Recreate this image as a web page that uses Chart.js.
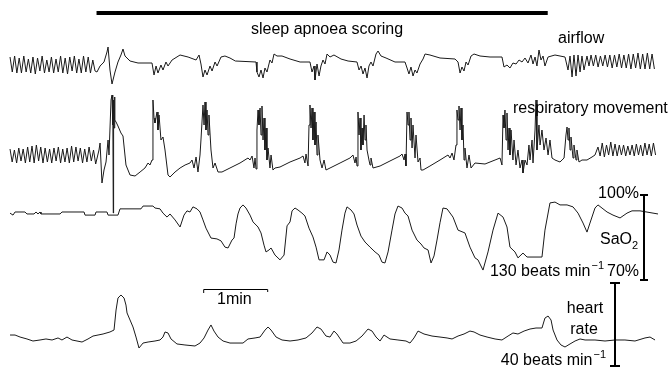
<!DOCTYPE html>
<html>
<head>
<meta charset="utf-8">
<script src="https://cdn.jsdelivr.net/npm/chart.js@4.4.1/dist/chart.umd.min.js"></script>
<style>
  body { margin: 0; background: #fff; }
  #wrap { width: 668px; height: 374px; }
</style>
</head>
<body>
<div id="wrap"><canvas id="trace"></canvas></div>
<script>
// time in seconds, signals: airflow / respiratory movement in arbitrary units,
// SaO2 in %, heart rate in beats/min
var airTime = [1.9,4.0,6.2,8.3,10.5,12.6,14.8,17.0,19.1,21.3,23.4,25.6,27.7,29.9,32.0,34.2,36.4,38.5,40.7,42.8,45.0,47.1,49.3,51.4,53.6,55.8,57.9,60.1,62.2,64.4,66.5,68.7,70.8,73.0,75.2,77.3,79.5,81.6,
  83.4,86.3,90,92.8,93.8,95.6,97.5,100.3,103.1,105.9,107.8,109.7,114.4,121.9,135,
  136.9,138.8,140.6,143.4,145.3,148.1,150,153.8,161.3,168.8,176.3,179.1,180.9,182.8,184.7,186.6,189.4,191.3,194.1,196,199.7,203.4,208.1,213.1,232.5,
  233.4,235.3,237.2,239.1,240.9,242.8,245.6,247.5,249.4,252.2,256.9,264.4,273.8,283.1,
  285,286.9,287.8,289.7,291.6,293.4,295.3,297.2,299.1,301.9,305.6,312.2,318.8,327.2,
  329.1,331,332.8,334.7,336.6,338.4,340.3,342.2,345,346.9,349.7,354.4,362.8,372.2,
  374.1,375.9,377.8,379.7,381.6,383.4,386.3,389.1,391,395.6,405,419.1,
  421.9,423.8,425.6,427.5,429.4,431.3,434.1,436.9,442.5,451.9,463.1,
  465,467.8,470.6,473.4,476.3,479.1,481.9,484.7,487.5,490.3,492.2,494.1,495.9,497.8,499.7,501.6,503.4,506.3,512.8,522.2,
  525,526.9,528.8,530.6,532.5,534.4,536.3,538.1,540,542.8,544.7,546.6,
  548.8,551,553.2,555.4,557.6,559.8,562,564.2,566.4,568.6,570.8,573,575.2,577.4,579.6,581.8,584,586.2,588.4,590.6,592.8,595,597.2,599.4,601.6,603.8,606];
var airValue = [0.8,-0.7,0.9,-0.8,0.7,-0.8,0.9,-0.7,0.6,-0.8,0.8,-0.9,0.7,-0.6,0.9,-0.8,0.5,-0.7,0.8,-0.8,0.6,-0.7,0.9,-0.8,0.7,-0.9,0.8,-0.6,0.9,-0.8,0.6,-0.8,0.9,-0.7,0.8,-0.8,0.5,-0.6,
  -0.7,-0.1,0.3,1.3,1.8,-0.5,-1.9,-0.7,0.3,1.0,1.6,0.9,0.4,0.2,0.2,
  -1.0,-0.1,-0.8,0,-0.5,0.3,-0.1,0.5,1.0,0.8,0.5,1.0,0.1,-1.2,-0.5,-1.0,-0.1,-0.6,0.3,-0.1,0.8,0.9,0.7,0.4,0.3,
  -0.7,-1.2,-0.5,-1.3,-0.3,-0.7,0.5,0.2,1.1,0.9,0.9,0.6,0.3,0.3,
  -0.7,-0.1,-1.5,0.1,-1.1,-0.1,0.5,0.1,1.1,0.8,1.0,0.6,0.4,0.3,
  -0.5,-0.1,-0.9,-0.3,-1.3,-0.1,0.3,-0.1,1.1,1.4,0.9,0.7,0.3,0.3,
  -0.3,-0.9,-0.2,-1.1,-0.5,-0.8,0.1,0.6,1.1,1.0,0.7,0.6,
  0.3,-0.8,-0.2,-0.6,0.3,0,0.9,1.1,0.9,0.8,0.8,
  -0.2,0,-0.3,0.2,0.1,0.5,0.3,0.7,0.2,1.0,0.1,0.8,-0.1,1.5,0.5,0.9,-0.1,0.8,1.0,0.8,
  -0.5,0.9,-1.2,1.0,-1.1,1.0,-0.7,0.9,-0.5,0.9,-0.1,1.0,
  -0.1,1.0,-0.2,0.9,-0.1,1.0,-0.2,1.0,-0.3,1.0,-0.2,1.1,-0.3,1.0,-0.3,1.1,-0.4,1.1,-0.3,1.2,-0.4,1.1,-0.4,1.2,-0.4,1.1,-0.4];

var respTime = [1.9,3.9,6.0,8.1,10.1,12.2,14.2,16.3,18.4,20.4,22.5,24.5,26.6,28.7,30.7,32.8,34.8,36.9,39.0,41.0,43.1,45.1,47.2,49.3,51.3,53.4,55.4,57.5,59.6,61.6,63.7,65.7,67.8,69.9,71.9,74.0,76.0,78.1,80.2,82.2,
  85.3,86.3,88.1,90,91.9,93.8,94.7,96.6,97.5,98,98.4,98.7,99,99.4,99.8,100.3,101.3,103.1,105.9,107.8,110.6,114.4,119.1,123.8,128.4,131.3,133.1,135,
  135.9,136.9,137.8,139.7,140.6,141.6,143.4,145.3,147.2,150,151.9,156.6,161.3,166,170.6,172.5,174.4,176.3,178.1,180,
  180.9,182.8,183.8,184.7,185.6,186.6,187.5,188.4,190.3,192.2,194.1,196.9,200.6,208.1,217.5,225,226.9,228.8,230.6,231.6,232.5,
  233.4,234.4,235.3,236.3,237.2,238.1,239.1,240,240.9,241.9,242.8,243.8,245.6,246.6,248.4,250.3,255,264.4,273.8,276.6,278.4,279.4,281.3,
  282.2,283.1,284.1,285,285.9,286.9,287.8,288.8,289.7,290.6,292.5,294.4,296.3,298.1,301.9,311.3,320.6,323.4,325.3,326.3,327.2,
  328.1,329.1,330,330.9,331.9,332.8,333.8,334.7,335.6,336.6,338.4,339.4,340.3,342.2,348.8,358.1,367.5,369.4,371.3,372.2,373.1,
  374.1,375,375.9,376.9,377.8,378.8,379.7,381.6,382.5,384.4,386.3,387.2,389.1,395.6,405,412.5,414.4,416.3,418.1,420,
  420.9,421.9,422.8,423.8,424.7,425.6,426.6,427.5,428.4,430.3,432.2,434.1,437.8,447.2,456.6,461.3,463.1,
  464.1,465,465.9,466.9,467.8,468.8,469.7,470.6,471.6,473.4,474.4,476.3,478.1,480,481.9,482.8,484.7,486.6,488.4,489.4,491.3,492.2,494.1,495,495.9,497.8,498.8,500.6,502.5,504.4,506.3,508.1,510,512.8,517.5,521.3,
  523.1,524.1,525,525.9,526.9,527.8,529.7,530.6,532.5,533.4,535.3,538.1,542.8,547.5,550.3,
  553.1,555.1,557.1,559.1,561.1,563.1,565.1,567.1,569.1,571.1,573.1,575.1,577.1,579.1,581.1,583.1,585.1,587.1,589.1,591.1,593.1,595.1,597.1,599.1,601.1,603.1,605.1,607.1];
var respValue = [0.6,-0.7,0.5,-0.8,0.7,-0.6,0.6,-0.8,0.8,-0.7,0.9,-0.8,1.0,-0.6,0.8,-0.8,0.7,-0.7,0.6,-0.8,0.7,-0.6,0.8,-0.8,0.6,-0.7,0.7,-0.8,0.9,-0.7,0.8,-0.6,0.7,-0.8,0.6,-0.7,0.8,-0.6,0.5,-0.9,
  0.5,1.2,-2.8,-1.5,-0.7,1.5,0,5.5,6.0,3.0,6.0,-5.8,5.5,2.7,5.8,3.5,3.3,2.9,2.2,1.9,-1.0,-2.0,-2.1,-1.7,-1.3,-0.8,-1.0,-0.5,
  5.5,3.7,3.2,4.3,2.5,4.0,1.5,1.8,0.5,-2.0,-2.2,-1.7,-1.3,-1.0,-0.8,-0.5,-1.3,-0.2,-1.7,0,
  1.5,5.0,3.0,5.3,2.5,4.5,2.0,4.0,0.5,-1.3,-0.8,-1.7,-1.7,-1.3,-0.8,-0.3,-0.5,-0.1,-1.3,-0.3,-1.4,
  2.5,4.5,3.0,4.7,2.0,4.9,1.5,3.7,0.5,2.7,-0.5,0.7,-1.3,0,-1.5,-1.3,-1.2,-0.7,-0.3,-0.1,-0.8,0.1,-1.1,
  3.0,5.0,2.7,4.7,1.5,4.3,1.0,3.3,0,2.0,-0.5,-1.3,-0.5,-1.5,-1.3,-0.8,-0.3,0,-0.8,-0.2,-1.1,
  4.3,2.0,3.7,0.5,2.7,1.0,4.0,1.5,3.0,0.5,-0.5,-1.0,-0.3,-1.3,-1.1,-0.6,-0.1,0.1,-0.5,0.1,-1.1,
  4.3,3.0,4.3,1.5,3.7,0.7,3.0,-0.3,2.0,-0.7,-0.3,-1.5,-1.5,-1.1,-0.5,0,-0.3,0.2,-0.5,1.0,
  4.5,3.5,4.9,2.5,4.7,1.5,3.0,-0.5,0.7,-1.3,0,-1.3,-0.8,-0.9,-0.5,-0.3,-1.0,
  4.0,2.7,4.5,1.5,4.2,0.5,2.7,0,2.5,-0.5,1.5,-1.0,0.5,-1.3,-0.5,-1.8,-0.5,-1.0,1.0,-0.5,1.5,-0.8,2.5,5.5,0.5,3.0,1.0,2.5,0.5,1.7,0,1.5,-0.3,-0.5,-0.7,-0.3,
  2.0,2.8,1.5,2.7,0.5,1.8,-0.3,1.0,-0.5,0.5,-0.7,-0.5,-0.5,-0.2,0,
  0.8,-0.1,1.2,-0.2,1.0,0,1.3,-0.1,1.1,-0.1,1.0,0,1.0,-0.1,0.9,0,1.0,-0.1,1.1,0,1.0,-0.1,1.2,0,1.1,-0.1,1.2,0];

var satTime = [1.9,4.7,6.6,15.9,17.8,24.4,26.3,28.1,30,30.9,48.8,50.6,71.3,72.2,81.6,82.5,92.8,93.8,103.1,105,124.7,126.6,135.9,137.8,142.5,145.3,149.1,151.9,156.6,161.3,165,167.8,170.6,173.4,177.2,180,182.8,185.6,190.3,195.9,199.7,203.4,206.3,
  210,211.9,213.8,215.6,217.5,220.3,223.1,226.9,229.7,234.4,237.2,240,241.9,244.7,246.6,250.3,255,258.8,261.6,264.4,266.3,269.1,271.9,275.6,278.4,282.2,285.9,288.8,291.6,296.3,299.1,301.9,304.7,307.5,310.3,313.1,315.9,317.8,321.6,324.4,327.2,330.9,334.7,339.4,344.1,347.8,350.6,353.4,356.3,360,362.8,365.6,369.4,372.2,375,378.8,383.4,387.2,390,393.8,396.6,399.4,402.2,405,407.8,
  411.6,417.2,421.9,428.4,433.1,437.8,440.6,445.3,450,454.7,459.4,464.1,467.8,470.6,475.3,478.1,482.8,486.6,500.6,503.4,508.1,512.8,517.5,524.1,529.7,534.4,539.1,542.8,545.6,550.3,553.1,561.6,567.2,573.8,580.3,585,592.5,604.7,609.4];
var satValue = [93.6,92.9,94.0,94.0,93.3,93.3,94.0,93.3,94.0,93.3,93.3,94.0,94.0,92.9,92.9,94.0,94.0,92.9,92.9,95.1,95.1,96.1,96.1,95.4,95.1,93.6,92.2,93.3,91.2,88.7,92.9,94.4,94.0,95.8,95.1,94.0,91.2,88.3,84.8,84.5,83.8,81.6,81.3,
  84.1,84.8,89.8,93.3,95.4,96.5,95.4,92.9,90.5,88.7,86.6,82.3,79.9,80.6,81.3,78.8,77.1,78.8,89.1,90.5,94.4,95.4,94.7,93.6,92.6,88.3,85.2,81.6,77.1,77.1,79.9,78.8,76.3,76.0,80.6,87.6,93.6,95.8,94.7,93.3,89.4,85.5,83.4,81.6,79.9,78.8,76.3,76.0,79.9,87.6,93.3,96.1,95.4,93.6,92.6,87.6,84.1,82.7,81.3,80.6,76.0,78.5,84.1,90.2,95.4,
  95.1,92.2,87.6,86.6,81.6,77.8,77.1,73.5,79.9,87.6,93.6,92.2,88.7,81.6,79.9,77.8,79.5,78.1,78.1,87.6,97.2,97.5,96.5,96.5,95.8,93.6,90.1,86.9,90.1,95.4,96.5,94.0,92.9,91.9,93.6,94.4,94.4,93.6,93.3];

var hrTime = [1.9,6.6,11.3,17.8,23.4,30,35.6,41.3,46.9,50.6,55.3,60,64.7,69.4,75,79.7,84.4,89.1,95.6,99.4,101.3,103.1,105.9,108.8,110.6,111.6,114.4,117.2,120,122.8,126.6,131.3,137.8,142.5,145.3,147.2,150,152.8,158.4,165.9,175.3,180,183.8,187.5,190.3,193.1,196.9,201.6,208.1,220.3,225,231.6,236.3,241,243.8,246.6,251.3,256.9,264.4,271.9,279.4,285,289.7,293.4,298.1,301.9,305.6,308.4,314.1,320.6,326.3,331.9,337.5,341.3,345,348.8,352.5,358.1,365.6,373.1,376.9,380.6,384.4,390,397.5,405,411.6,416.3,421.9,427.5,433.1,436.9,442.5,449.1,456.6,463.1,468.8,473.4,478.1,483.8,489.4,495,500.6,503.4,506.3,509.1,511,514.7,518.4,522.2,526.9,531.6,536.3,541,550.3,559.7,569.1,578.4,587.8,597.2,601.9,606.6];
var hrValue = [73.6,73.6,71.4,69.3,67.1,68.2,69.3,68.2,70.4,68.2,71.4,68.2,67.1,66.0,69.3,72.5,73.6,74.7,76.9,79.0,100.7,113.7,117.0,113.7,106.1,97.5,89.9,82.3,71.4,59.5,64.9,66.0,67.1,68.2,71.4,76.9,75.8,69.3,63.9,62.8,61.7,64.9,70.4,79.0,84.5,77.9,71.4,67.1,64.9,64.9,69.3,70.4,71.4,79.0,82.3,79.0,71.4,68.2,67.1,68.2,70.4,75.8,82.3,80.1,72.5,71.4,77.9,74.7,64.9,64.9,67.1,72.5,80.1,77.9,71.4,67.1,73.6,69.3,68.2,67.1,64.9,70.4,77.9,74.7,72.5,71.4,70.4,69.3,72.5,74.7,77.9,76.9,73.6,71.4,69.3,68.2,72.5,75.8,74.7,77.9,80.1,81.2,81.2,92.0,94.2,89.9,79.0,68.2,62.8,60.6,63.9,67.1,69.3,68.2,68.2,67.1,68.2,68.2,67.1,70.4,71.4,68.2];

// scale bars and event markers
var satScale = [100, 70];
var hrScale = [130, 40];
var minuteBar = [183, 243];
var scoringPeriod = [83, 506];

function pairs(t, v) {
  return t.map(function (x, i) { return { x: x, y: v[i] }; });
}

function traceSet(label, t, v, axis) {
  return {
    label: label,
    data: pairs(t, v),
    yAxisID: axis,
    borderColor: '#1a1a1a',
    borderWidth: 1,
    pointRadius: 0,
    tension: 0,
    fill: false
  };
}

var annotate = {
  id: 'annotate',
  afterDatasetsDraw: function (chart) {
    var c = chart.ctx;
    var xs = chart.scales.x;
    var ys = chart.scales.ySat;
    var yh = chart.scales.yHR;
    c.save();
    c.strokeStyle = '#000';
    c.fillStyle = '#000';

    // scoring bar
    c.lineWidth = 4;
    c.beginPath();
    c.moveTo(xs.getPixelForValue(scoringPeriod[0]), 13);
    c.lineTo(xs.getPixelForValue(scoringPeriod[1]), 13);
    c.stroke();

    // SaO2 scale bar
    var sx = 644;
    var s1 = ys.getPixelForValue(satScale[0]);
    var s2 = ys.getPixelForValue(satScale[1]);
    c.lineWidth = 2;
    c.beginPath();
    c.moveTo(sx, s1); c.lineTo(sx, s2);
    c.moveTo(sx - 4, s1); c.lineTo(sx + 4, s1);
    c.moveTo(sx - 4, s2); c.lineTo(sx + 4, s2);
    c.stroke();

    // heart rate scale bar
    var hx = 615;
    var h1 = yh.getPixelForValue(hrScale[0]);
    var h2 = yh.getPixelForValue(hrScale[1]);
    c.beginPath();
    c.moveTo(hx, h1); c.lineTo(hx, h2);
    c.moveTo(hx - 5, h1); c.lineTo(hx + 5, h1);
    c.moveTo(hx - 5, h2); c.lineTo(hx + 5, h2);
    c.stroke();

    // 1 min bar
    var m1 = xs.getPixelForValue(minuteBar[0]);
    var m2 = xs.getPixelForValue(minuteBar[1]);
    c.lineWidth = 1;
    c.beginPath();
    c.moveTo(m1 + 0.5, 293); c.lineTo(m1 + 0.5, 289.5);
    c.lineTo(m2 + 0.5, 289.5); c.lineTo(m2 + 0.5, 292);
    c.stroke();

    // labels
    c.font = '16px "Liberation Sans", Arial, sans-serif';
    c.textBaseline = 'middle';
    c.textAlign = 'center';
    c.fillText('sleep apnoea scoring', 327, 30);
    c.fillText('heart', 585, 309);
    c.fillText('rate', 584, 330);
    c.textAlign = 'left';
    c.fillText('1min', 217, 300);
    c.fillText('airflow', 558, 39);
    c.fillText('respiratory movement', 513, 109);
    c.textAlign = 'right';
    c.fillText('100%', 639, s1 - 1);
    c.fillText('70%', 639, s2 - 8);

    // SaO2 with subscript
    c.textAlign = 'left';
    c.fillText('SaO', 600, 240);
    c.font = '11px "Liberation Sans", Arial, sans-serif';
    c.fillText('2', 632, 246);

    function beats(txt, right, y) {
      c.font = '11px "Liberation Sans", Arial, sans-serif';
      var sup = '\u22121';
      var w = c.measureText(sup).width;
      c.textAlign = 'left';
      c.fillText(sup, right - w, y - 6);
      c.font = '16px "Liberation Sans", Arial, sans-serif';
      c.textAlign = 'right';
      c.fillText(txt, right - w - 1, y);
    }
    beats(hrScale[0] + ' beats min', 604, 272);
    beats(hrScale[1] + ' beats min', 606, 361);
    c.restore();
  }
};

new Chart(document.getElementById('trace'), {
  type: 'line',
  data: {
    datasets: [
      traceSet('airflow', airTime, airValue, 'yAir'),
      traceSet('respiratory movement', respTime, respValue, 'yResp'),
      traceSet('SaO2', satTime, satValue, 'ySat'),
      traceSet('heart rate', hrTime, hrValue, 'yHR')
    ]
  },
  options: {
    responsive: true,
    maintainAspectRatio: false,
    animation: false,
    layout: { padding: 0 },
    plugins: { legend: { display: false }, tooltip: { enabled: false } },
    scales: {
      x: { type: 'linear', min: -7.5, max: 618.75, display: false },
      yAir: { min: -30.9, max: 6.5, display: false },
      yResp: { min: -21.9, max: 15.5, display: false },
      ySat: { min: 36.82, max: 168.82, display: false },
      yHR: { min: 31.33, max: 436.87, display: false }
    }
  },
  plugins: [annotate]
});
</script>
</body>
</html>
